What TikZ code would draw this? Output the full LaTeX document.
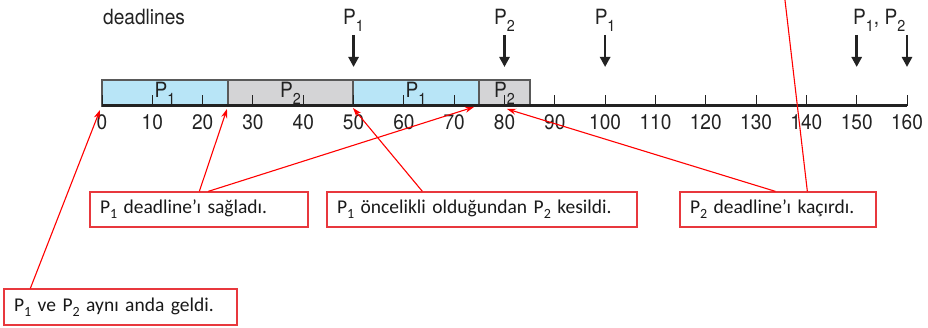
\documentclass[tikz,border=0pt]{standalone}
\usepackage{fontspec}
\setmainfont{TeX Gyre Heros}[FakeStretch=0.91]
\newfontfamily\calloutfont{Carlito}
\usetikzlibrary{arrows.meta}
\definecolor{barblue}{HTML}{B8E5F7}
\definecolor{bargray}{HTML}{D4D4D6}
\definecolor{boxred}{HTML}{E8383D}
\definecolor{ink}{HTML}{222222}
\newcommand\subx[1]{\raisebox{-0.3em}{\scalebox{0.75}{#1}}}
\newcommand\subc[1]{\raisebox{-0.25em}{\scalebox{0.72}{#1}}}
\begin{document}
\begin{tikzpicture}[x=1pt,y=-1pt,
  figtext/.style={font=\fontsize{21}{24}\selectfont, text=ink, inner sep=0pt},
  barbox/.style={draw=black!65, line width=1.2pt, inner sep=0pt, minimum height=26.5pt, figtext},
  p1bar/.style={barbox, fill=barblue},
  p2bar/.style={barbox, fill=bargray},
  axisline/.style={draw=ink, line width=3pt},
  tickline/.style={draw=ink, line width=1pt},
  dlarrow/.style={draw=ink, line width=2.6pt, -{Triangle[length=10pt,width=10pt]}},
  callout/.style={draw=boxred, line width=1.3pt, fill=white, inner xsep=10pt, inner ysep=0pt,
    align=left, minimum height=35pt, font=\calloutfont\fontsize{19.5}{22}\selectfont, text=black!90},
  redarrow/.style={draw=red, line width=1.1pt, -{Stealth[length=9pt,width=6pt]}},
  redline/.style={draw=red, line width=1.1pt}
]
\useasboundingbox (0,0) rectangle (928,328);

% bars
\node[p1bar, minimum width=126pt] (bA) at (165,93.3) {P\subx{1}};
\node[p2bar, minimum width=125pt] (bB) at (290.5,93.3) {P\subx{2}};
\node[p1bar, minimum width=126pt] (bC) at (416,93.3) {P\subx{1}};
\node[p2bar, minimum width=51pt] (bD) at (504.5,93.3) {P\subx{2}};

% ticks and labels
\foreach \t in {0,...,16}{
  \pgfmathsetmacro\xx{102+50.3125*\t}
  \pgfmathtruncatemacro\lab{10*\t}
  \draw[tickline] (\xx,106) -- (\xx,95);
  \node[figtext] (tl\t) at (\xx,122.5) {\lab};
}
% axis
\coordinate (axL) at (102,106);
\coordinate (axR) at (907,106);
\draw[axisline] (axL) -- (axR);

% deadlines
\node[figtext, anchor=base west] (dl) at (103,25) {deadlines};
\foreach \d/\nm in {50/d50,80/d80,100/d100,150/d150,160/d160}{
  \pgfmathsetmacro\xx{102+5.03125*\d}
  \coordinate (\nm top) at (\xx,35);
  \coordinate (\nm tip) at (\xx,67);
  \draw[dlarrow] (\nm top) -- (\nm tip);
}
\node[figtext, anchor=base] (l50) at (353.6,25) {P\subx{1}};
\node[figtext, anchor=base] (l80) at (504.5,25) {P\subx{2}};
\node[figtext, anchor=base] (l100) at (605.1,25) {P\subx{1}};
\node[figtext, anchor=base west] (l150) at (853,25) {P\subx{1}, P\subx{2}};

% callouts
\node[callout, text width=198pt] (c1) at (199,209.5) {P\subc{1} deadline’ı sağladı.};
\node[callout, text width=290pt] (c2) at (482,209.5) {P\subc{1} öncelikli olduğundan P\subc{2} kesildi.};
\node[callout, text width=176pt] (c3) at (778,209.5) {P\subc{2} deadline’ı kaçırdı.};
\node[callout, text width=213pt, minimum height=36pt] (c4) at (120.5,307) {P\subc{1} ve P\subc{2} aynı anda geldi.};

% arrow targets
\coordinate (a0) at (100,110);
\coordinate (a25) at (227,109);
\coordinate (a74) at (474,107);
\coordinate (a50) at (353,108);
\coordinate (a80) at (507,109);
\coordinate (atop) at (784.5,-4);

\coordinate (s4) at ([xshift=27pt]c4.north west);
\coordinate (s1a) at ([xshift=110pt]c1.north west);
\coordinate (s1b) at ([xshift=119pt]c1.north west);
\coordinate (s2) at ([xshift=96pt]c2.north west);
\coordinate (s3a) at ([xshift=96pt]c3.north west);
\coordinate (s3b) at ([xshift=128pt]c3.north west);

\draw[redarrow] (s4) -- (a0);
\draw[redarrow] (s1a) -- (a25);
\draw[redarrow] (s1b) -- (a74);
\draw[redarrow] (s2) -- (a50);
\draw[redarrow] (s3a) -- (a80);
\draw[redline] (s3b) -- (atop);
\end{tikzpicture}
\end{document}
